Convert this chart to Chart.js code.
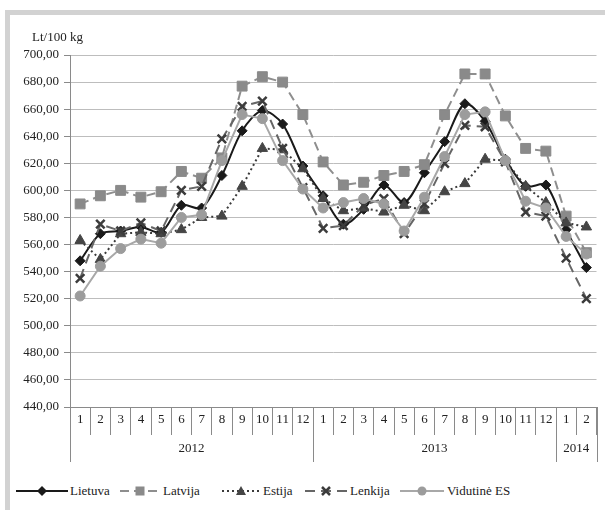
<!DOCTYPE html>
<html>
<head>
<meta charset="utf-8">
<script src="https://cdn.jsdelivr.net/npm/chart.js@4"></script>
<style>
  body { margin: 0; background: #fff; width: 605px; height: 510px; overflow: hidden; position: relative; }
  .frame { position: absolute; left: 5px; top: 10px; width: 640px; height: 560px; border: 5px solid #d2d2d2; box-sizing: border-box; }
  .wrap { position: absolute; left: 0; top: 0; width: 605px; height: 470px; }
  .unit { position: absolute; left: 32px; top: 29px; font-family: "Liberation Serif", serif; font-size: 13px; color: #222; }
  .legend { position: absolute; left: 0; top: 484px; width: 605px; height: 14px; font-family: "Liberation Serif", serif; font-size: 13px; color: #222; }
  .legend svg { position: absolute; top: 1px; }
  .legend span { position: absolute; top: -1px; white-space: nowrap; }
</style>
</head>
<body>
<div class="frame"></div>
<div class="wrap"><canvas id="chart" width="605" height="470"></canvas></div>
<div class="unit">Lt/100 kg</div>
<div class="legend" id="legend"></div>
<script>
// month labels and years under them
const months = ['1','2','3','4','5','6','7','8','9','10','11','12',
                '1','2','3','4','5','6','7','8','9','10','11','12',
                '1','2'];
const years = ['2012', '2013', '2014'];
const yearSpans = [12, 12, 2];

// prices, Lt/100 kg
const lietuva  = [548,568,570,573,569,589,587,611,644,659,649,618, 596,575,586,604,591,613,636,664,651,623,603,604,571,543];
const latvija  = [590,596,600,595,599,614,609,624,677,684,680,656, 621,604,606,611,614,619,656,686,686,655,631,629,581,554];
const estija   = [563,549,568,569,568,571,580,581,603,631,630,616, 594,585,587,584,589,585,599,605,623,622,603,591,576,573];
const lenkija  = [535,575,570,576,570,600,603,638,662,666,631,602, 572,574,589,594,568,590,620,648,647,621,584,581,550,520];
const vidutine = [522,544,557,564,561,580,582,622,656,653,622,601, 587,591,594,590,570,595,625,656,658,622,592,587,566,553];

const yMin = 440, yMax = 700, yStep = 20;

const serif = '"Liberation Serif", serif';

const series = [
  { label: 'Lietuva', data: lietuva, line: '#1a1a1a', fill: '#1a1a1a', dash: [], style: 'rectRot', r: 5, tension: 0.3 },
  { label: 'Latvija', data: latvija, line: '#8e8e8e', fill: '#8a8a8a', dash: [9, 5], style: 'rect', r: 7, tension: 0 },
  { label: 'Estija', data: estija, line: '#3a3a3a', fill: '#454545', dash: [2, 3], style: 'triangle', r: 6, tension: 0 },
  { label: 'Lenkija', data: lenkija, line: '#666666', fill: '#3c3c3c', dash: [10, 6], style: 'crossRot', r: 6, tension: 0 },
  { label: 'Vidutinė ES', data: vidutine, line: '#a8a8a8', fill: '#9c9c9c', dash: [], style: 'circle', r: 5, tension: 0 }
];

// year row under the month numbers
const yearRows = {
  id: 'yearRows',
  afterDraw(chart) {
    const ctx = chart.ctx;
    const x = chart.scales.x;
    const w = (x.right - x.left) / months.length;
    const top = chart.chartArea.bottom;
    ctx.save();
    ctx.strokeStyle = '#8a8a8a';
    ctx.lineWidth = 1;
    ctx.fillStyle = '#222';
    ctx.font = '13px ' + serif;
    ctx.textAlign = 'center';
    ctx.textBaseline = 'middle';
    let s = 0;
    const edges = [0];
    years.forEach((yr, i) => {
      const mid = x.left + (s + yearSpans[i] / 2) * w;
      ctx.fillText(yr, mid, top + 42);
      s += yearSpans[i];
      edges.push(s);
    });
    edges.forEach(e => {
      const px = Math.round(x.left + e * w) + 0.5;
      ctx.beginPath();
      ctx.moveTo(px, top);
      ctx.lineTo(px, top + 55);
      ctx.stroke();
    });
    ctx.restore();
  }
};

new Chart(document.getElementById('chart'), {
  type: 'line',
  data: {
    labels: months,
    datasets: series.map((s, i) => ({
      label: s.label,
      data: s.data,
      borderColor: s.line,
      borderWidth: 2,
      borderDash: s.dash,
      backgroundColor: s.fill,
      pointStyle: s.style,
      pointRadius: s.r,
      pointBackgroundColor: s.fill,
      pointBorderColor: s.fill,
      pointBorderWidth: s.style === 'crossRot' ? 2.5 : 1,
      tension: s.tension,
      order: series.length - i
    }))
  },
  options: {
    responsive: false,
    animation: false,
    devicePixelRatio: 1,
    layout: { padding: { top: 55, right: 5, bottom: 8, left: 0 } },
    plugins: { legend: { display: false }, tooltip: { enabled: false } },
    scales: {
      x: {
        type: 'category',
        offset: true,
        border: { color: '#8a8a8a' },
        grid: { offset: true, drawOnChartArea: false, tickLength: 28, color: '#8a8a8a' },
        ticks: { font: { family: serif, size: 13 }, color: '#222', padding: -23, maxRotation: 0, autoSkip: false },
        afterFit(scale) { scale.height = 55; }
      },
      y: {
        min: yMin,
        max: yMax,
        border: { color: '#8a8a8a' },
        grid: { color: '#bdbdbd', borderDash: [3, 3], tickLength: 6, tickColor: '#8a8a8a', tickBorderDash: [] },
        ticks: {
          stepSize: yStep,
          font: { family: serif, size: 13 },
          color: '#222',
          padding: 5,
          callback: v => v.toFixed(2).replace('.', ',')
        },
        afterFit(scale) { scale.width = 70; }
      }
    }
  },
  plugins: [yearRows]
});

// legend: line sample + marker + name, placed like the original
const legendSample = [[16, 68], [120, 160], [222, 260], [305, 347], [400, 444]];
const legendText = [70, 163, 263, 350, 447];
function marker(style, c, m) {
  switch (style) {
    case 'rectRot': return `<polygon points="${m},1 ${m + 5},6 ${m},11 ${m - 5},6" fill="${c}"/>`;
    case 'rect': return `<rect x="${m - 4.5}" y="1.5" width="9" height="9" fill="${c}"/>`;
    case 'triangle': return `<polygon points="${m},1 ${m + 5},10 ${m - 5},10" fill="${c}"/>`;
    case 'crossRot': return `<path d="M${m - 4},2 L${m + 4},10 M${m + 4},2 L${m - 4},10" stroke="${c}" stroke-width="2.5"/>`;
    default: return `<circle cx="${m}" cy="6" r="4.5" fill="${c}"/>`;
  }
}
const legend = document.getElementById('legend');
series.forEach((s, i) => {
  const [a, b] = legendSample[i];
  const w = b - a;
  const dash = s.dash.length ? `stroke-dasharray="${s.dash.join(' ')}"` : '';
  const svg = `<svg width="${w}" height="12" style="left:${a}px"><line x1="0" y1="6" x2="${w}" y2="6" stroke="${s.line}" stroke-width="2" ${dash}/>${marker(s.style, s.fill, w / 2)}</svg>`;
  legend.insertAdjacentHTML('beforeend', svg + `<span style="left:${legendText[i]}px">${s.label}</span>`);
});
</script>
</body>
</html>
